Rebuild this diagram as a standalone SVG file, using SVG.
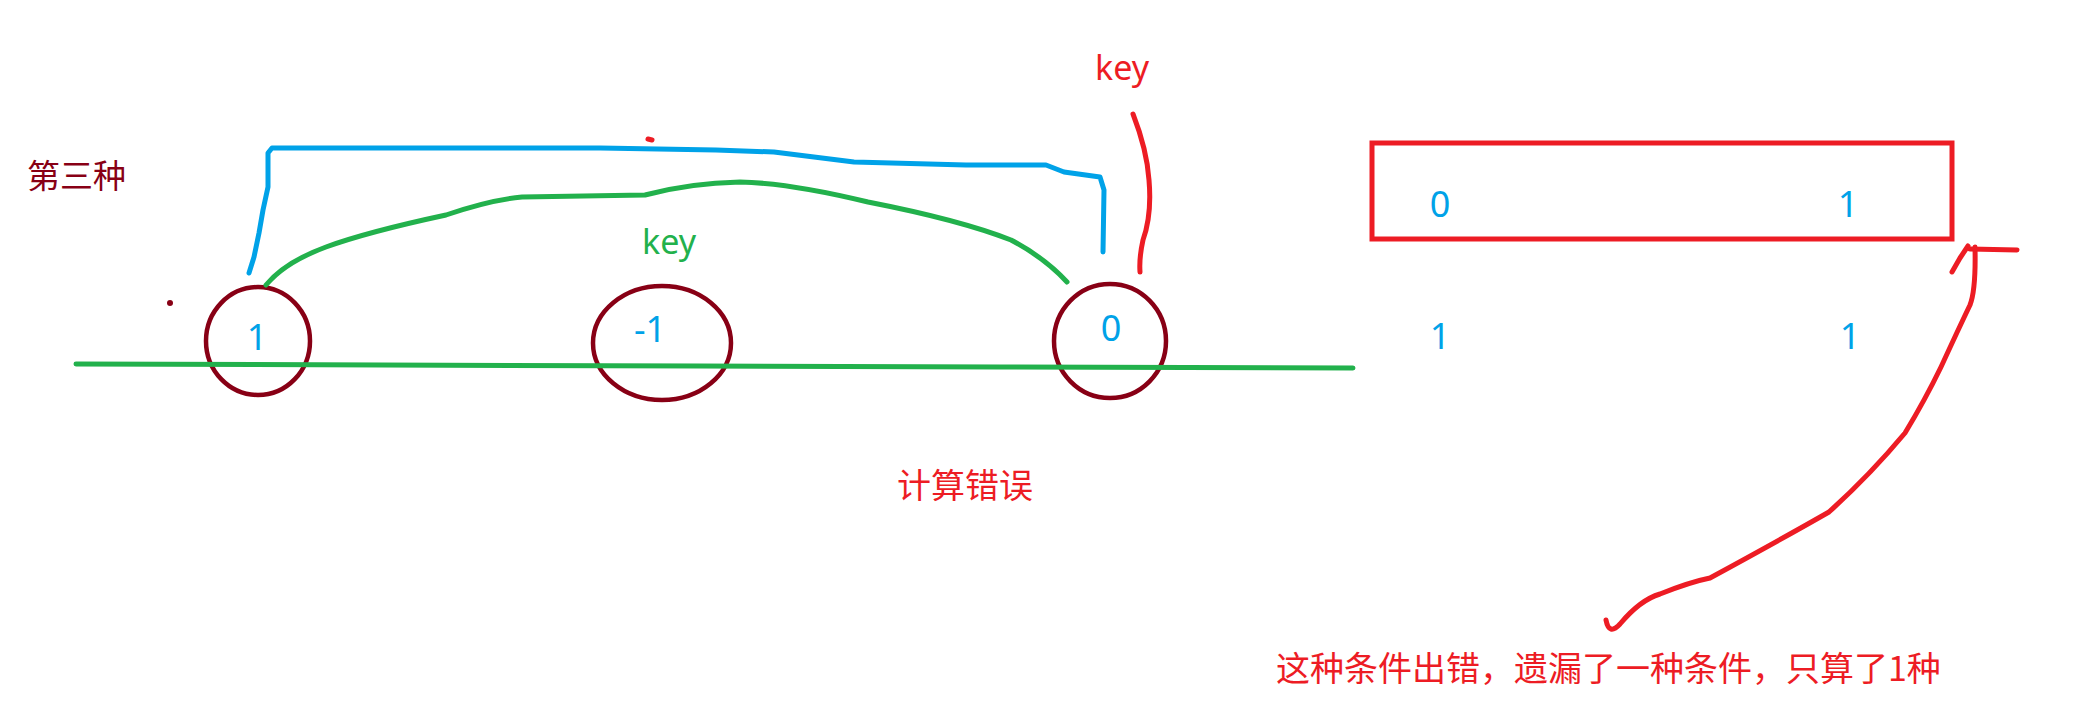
<svg xmlns="http://www.w3.org/2000/svg" width="2095" height="722" viewBox="0 0 2095 722">
<style>
.bg{fill:#ffffff}
.cjk{font-family:"Noto Sans CJK SC","Noto Sans",sans-serif}
.lat{font-family:"Noto Sans","Noto Sans CJK SC",sans-serif}
.num{font-family:"Noto Sans","Noto Sans CJK SC",sans-serif;font-size:36px;fill:#00a2e8;text-anchor:middle}
.ring{fill:none;stroke:#880015;stroke-width:4.5}
.pen{fill:none;stroke-linecap:round;stroke-linejoin:round}
.blue{stroke:#00a2e8;stroke-width:5}
.green{stroke:#22b14c;stroke-width:5}
.red{stroke:#ed1c24;stroke-width:5}
</style>
<rect class="bg" x="0" y="0" width="2095" height="722"/>

<g id="label-third">
<text class="cjk" x="27" y="188" font-size="33" fill="#880015">第三种</text>
<circle cx="170" cy="303" r="3" fill="#880015"/>
</g>

<g id="node-1">
<ellipse class="ring" cx="258" cy="341" rx="52" ry="54"/>
<text class="num" x="257" y="350">1</text>
</g>
<g id="node-minus1">
<ellipse class="ring" cx="662" cy="343" rx="69" ry="57"/>
<text class="num" x="650" y="342">-1</text>
</g>
<g id="node-0">
<ellipse class="ring" cx="1110" cy="341" rx="56" ry="57"/>
<text class="num" x="1111" y="341">0</text>
</g>

<g id="box">
<rect x="1372" y="143" width="580" height="96" fill="none" stroke="#ed1c24" stroke-width="5"/>
<text class="num" x="1440" y="217">0</text>
<text class="num" x="1848" y="217">1</text>
</g>
<g id="row-values">
<text class="num" x="1440" y="349">1</text>
<text class="num" x="1850" y="349">1</text>
</g>

<g id="connectors">
<polyline class="pen green" stroke-width="4.5" points="76,364 700,366 1000,367 1353,368"/>
<polyline class="pen blue" points="249,273 254,257 259,233 263,210 268,187 268,153 272,148 600,148 716,150 774,152 814,157 854,162 966,165 1046,165 1064,172 1100,177 1104,190 1103,252"/>
<path class="pen green" d="M266,285 Q285,262 326,247 T446,215 Q490,200 522,197 L645,195 Q690,183 740,182 Q790,183 868,202 Q960,220 1011,240 Q1045,258 1067,282"/>
<path class="pen red" d="M1133,114 Q1147,150 1149,180 Q1152,215 1143,240 Q1139,258 1140,272"/>
<path class="pen red" stroke-width="3" d="M648,139 L652,140"/>
<path class="pen red" d="M1606,620 Q1609,636 1620,624 Q1640,600 1660,594 Q1690,582 1710,578 Q1780,540 1829,512 Q1870,475 1905,433 Q1925,400 1941,367 Q1958,330 1970,305 Q1976,290 1975,247"/>
<polyline class="pen red" points="1952,272 1960,258 1968,246"/>
<polyline class="pen red" points="1970,249 2017,250"/>
</g>

<g id="labels">
<text class="lat" x="1095" y="80" font-size="34" fill="#ed1c24">key</text>
<text class="lat" x="642" y="254" font-size="34" fill="#22b14c">key</text>
<text class="cjk" x="897" y="498" font-size="34" fill="#ed1c24">计算错误</text>
<text class="cjk" x="1276" y="681" font-size="34" fill="#ed1c24">这种条件出错，遗漏了一种条件，只算了1种</text>
</g>
</svg>
